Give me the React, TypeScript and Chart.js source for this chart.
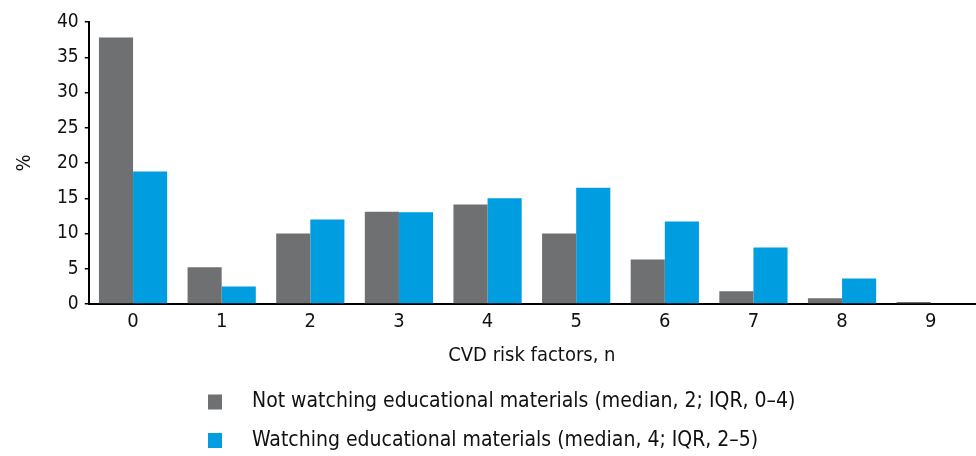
import React, { useEffect, useRef } from "react";
import { Chart, registerables } from "chart.js";

Chart.register(...registerables);

const categories = ["0", "1", "2", "3", "4", "5", "6", "7", "8", "9"];
const notWatching = [37.8, 5.2, 10.0, 13.1, 14.1, 10.0, 6.3, 1.8, 0.8, 0.3];
const watching = [18.8, 2.5, 12.0, 13.0, 15.0, 16.5, 11.7, 8.0, 3.6, 0];
const seriesLabels = [
  "Not watching educational materials (median, 2; IQR, 0\u20134)",
  "Watching educational materials (median, 4; IQR, 2\u20135)",
];
const yTicks = [0, 5, 10, 15, 20, 25, 30, 35, 40];

const FONT = "'Liberation Sans Narrow', 'DejaVu Sans Condensed', 'Arial Narrow', sans-serif";

const legendPlugin = {
  id: "verticalLegend",
  afterDraw(chart: any) {
    const ctx = chart.ctx;
    ctx.save();
    ctx.font = `21px ${FONT}`;
    ctx.textBaseline = "middle";
    ctx.textAlign = "left";
    chart.data.datasets.forEach((ds: any, i: number) => {
      const y = 402 + i * 38.5;
      ctx.fillStyle = ds.backgroundColor;
      ctx.fillRect(208, y - 7.5, 14, 15);
      ctx.fillStyle = "#111";
      ctx.fillText(ds.label, 252, y);
    });
    ctx.restore();
  },
};

export default function App() {
  const ref = useRef<HTMLCanvasElement | null>(null);
  useEffect(() => {
    document.body.style.margin = "0";
    const chart = new Chart(ref.current as HTMLCanvasElement, {
      type: "bar",
      data: {
        labels: categories,
        datasets: [
          {
            label: seriesLabels[0],
            data: notWatching,
            backgroundColor: "#6f7072",
            categoryPercentage: 0.77,
            barPercentage: 1,
          },
          {
            label: seriesLabels[1],
            data: watching,
            backgroundColor: "#009ee0",
            categoryPercentage: 0.77,
            barPercentage: 1,
          },
        ],
      },
      options: {
        animation: false,
        responsive: false,
        maintainAspectRatio: false,
        layout: { padding: { top: 22, right: 1, bottom: 88, left: 13 } },
        plugins: {
          legend: { display: false },
          tooltip: { enabled: false },
        },
        scales: {
          x: {
            grid: { display: false, drawTicks: false },
            border: { display: true, color: "#000", width: 2 },
            ticks: { color: "#111", font: { family: FONT, size: 20 }, padding: 6 },
            title: {
              display: true,
              text: "CVD risk factors, n",
              color: "#111",
              font: { family: FONT, size: 20 },
              padding: { top: 4, bottom: 0 },
            },
          },
          y: {
            min: 0,
            max: 40,
            afterBuildTicks: (axis: any) => {
              axis.ticks = yTicks.map((v) => ({ value: v }));
            },
            grid: { drawOnChartArea: false, drawTicks: true, tickLength: 4, color: "#000", lineWidth: 1.5 },
            border: { display: true, color: "#000", width: 2 },
            ticks: { color: "#111", font: { family: FONT, size: 19 }, padding: 6 },
            title: {
              display: true,
              text: "%",
              color: "#111",
              font: { family: FONT, size: 20 },
              padding: { top: 0, bottom: 14 },
            },
          },
        },
      },
      plugins: [legendPlugin],
    });
    return () => chart.destroy();
  }, []);
  return (
    <div style={{ position: "absolute", left: 0, top: 0, width: 976, height: 456 }}>
      <canvas ref={ref} width={976} height={456} style={{ width: 976, height: 456 }} />
    </div>
  );
}
